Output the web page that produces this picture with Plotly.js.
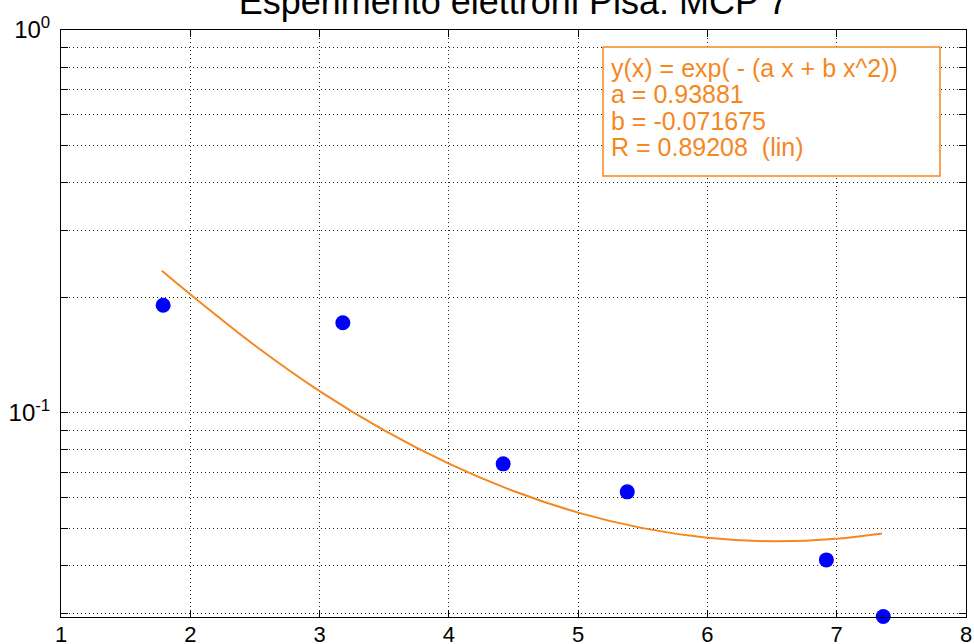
<!DOCTYPE html>
<html>
<head>
<meta charset="utf-8">
<script src="https://cdn.plot.ly/plotly-3.0.1.min.js"></script>
<style>html,body{margin:0;padding:0;background:#fff;}#chart{width:974px;height:644px;}</style>
</head>
<body>
<div id="chart"></div>
<script>
// measured data points
const dataX = [1.79, 3.18, 4.42, 5.38, 6.92, 7.36];
const dataY = [0.191, 0.172, 0.0736, 0.0622, 0.0413, 0.0294];

// fitted curve
const fitX = [1.78, 2.0, 2.5, 3.0, 3.5, 4.0, 4.5, 5.0, 5.5, 6.0, 6.5, 7.0, 7.35];
const fitY = [0.235, 0.204, 0.150, 0.114, 0.090, 0.0737, 0.0625, 0.0549, 0.0500, 0.0472, 0.0462, 0.0469, 0.0484];

const xTicks = [1, 2, 3, 4, 5, 6, 7, 8];
const yTickVals = [0.03, 0.04, 0.05, 0.06, 0.07, 0.08, 0.09, 0.1, 0.2, 0.3, 0.4, 0.5, 0.6, 0.7, 0.8, 0.9, 1];
const yTickText = ['', '', '', '', '', '', '', '10<sup>-1</sup>', '', '', '', '', '', '', '', '', '10<sup>0</sup>'];

const titleText = 'Esperimento elettroni Pisa: MCP 7';
const boxLines = ['y(x) = exp( - (a x + b x^2))', 'a = 0.93881', 'b = -0.071675', 'R = 0.89208  (lin)'];

const orange = '#f5871f';
const font = 'Liberation Sans, Arial, Helvetica, sans-serif';

const traces = [
  {
    x: fitX, y: fitY, type: 'scatter', mode: 'lines',
    line: {color: orange, width: 2, shape: 'spline'},
    hoverinfo: 'skip'
  },
  {
    x: dataX, y: dataY, type: 'scatter', mode: 'markers',
    marker: {color: '#0000ff', size: 15, symbol: 'circle'},
    cliponaxis: false
  }
];

const annotations = boxLines.map((t, i) => ({
  xref: 'paper', yref: 'paper',
  x: (609 - 61) / 905, y: (617 - (68 + i * 26.3)) / 587,
  xanchor: 'left', yanchor: 'middle',
  text: t, showarrow: false,
  font: {family: font, size: 25, color: orange}
}));

const layout = {
  width: 974, height: 644,
  margin: {l: 61, r: 8, t: 30, b: 27},
  paper_bgcolor: '#fff', plot_bgcolor: '#fff',
  showlegend: false,
  font: {family: font, color: '#000'},
  title: {
    text: titleText, font: {family: font, size: 36, color: '#000'},
    x: 0.5, xref: 'paper', y: 1 - 1 / 644, yref: 'container', yanchor: 'middle'
  },
  xaxis: {
    range: [1, 8], tickvals: xTicks, ticktext: xTicks.map(String),
    showline: true, linecolor: '#000', linewidth: 1, mirror: 'ticks',
    ticks: 'inside', ticklen: 7, tickcolor: '#000',
    showgrid: true, gridcolor: '#222', griddash: '1px,3px', gridwidth: 1,
    zeroline: false, tickfont: {family: font, size: 22, color: '#000'},
    ticklabelstandoff: -2
  },
  yaxis: {
    type: 'log', range: [Math.log10(0.0293), 0],
    tickvals: yTickVals, ticktext: yTickText,
    showline: true, linecolor: '#000', linewidth: 1, mirror: 'ticks',
    ticks: 'inside', ticklen: 7, tickcolor: '#000',
    showgrid: true, gridcolor: '#222', griddash: '1px,3px', gridwidth: 1,
    zeroline: false, tickfont: {family: font, size: 24, color: '#000'},
    ticklabelstandoff: 5
  },
  shapes: [{
    type: 'rect', xref: 'paper', yref: 'paper',
    x0: (603 - 61) / 905, x1: (940 - 61) / 905,
    y0: (617 - 176) / 587, y1: (617 - 47) / 587,
    line: {color: orange, width: 1.5}, fillcolor: '#fff', layer: 'above'
  }],
  annotations: annotations
};

Plotly.newPlot('chart', traces, layout, {displayModeBar: false, staticPlot: true});
</script>
</body>
</html>
